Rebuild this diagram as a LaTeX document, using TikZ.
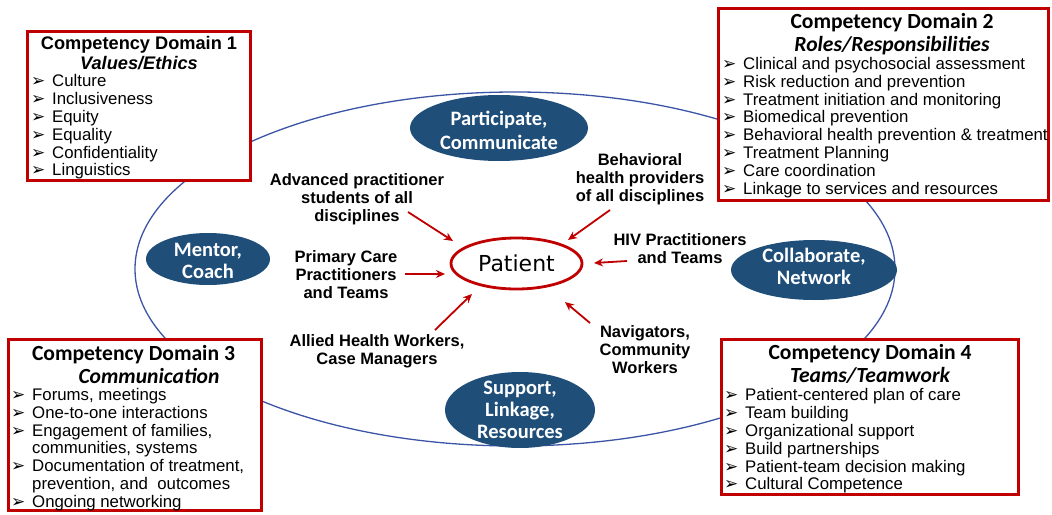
\documentclass[tikz,border=0pt]{standalone}
\usepackage{fontspec}
\setmainfont{Liberation Sans}
\newfontfamily\calfont{Carlito}
\newfontfamily\dvfont{DejaVu Sans}
\usetikzlibrary{shapes.geometric,arrows.meta}
\definecolor{boxred}{HTML}{C00000}
\definecolor{ellblue}{HTML}{1F4E79}
\definecolor{ringblue}{HTML}{3B54A5}
\newcommand\fsz[2]{\fontsize{#1}{#2}\selectfont}
\newcommand\itm{\makebox[21pt][l]{\dvfont\fsz{17}{18}➢}}
\newcommand\itmgap{\makebox[21pt][l]{}}
\begin{document}
\begin{tikzpicture}[x=1pt,y=-1pt,
  domainbox/.style={draw=boxred,line width=3pt,fill=white,rectangle,anchor=north west,inner sep=0pt},
  itemtxt/.style={anchor=base west,inner sep=0pt,font=\fsz{16.8}{18}},
  hdarial/.style={anchor=base,inner sep=0pt,font=\bfseries\fsz{18.2}{20}},
  hdarialit/.style={anchor=base,inner sep=0pt,font=\bfseries\itshape\fsz{18.2}{20}},
  hdcal/.style={anchor=base,inner sep=0pt,font=\calfont\bfseries\fsz{21.6}{24}},
  hdcalit/.style={anchor=base,inner sep=0pt,font=\calfont\bfseries\itshape\fsz{21.6}{24}},
  lbl/.style={align=center,inner sep=0pt,font=\bfseries\fsz{16.5}{18}},
  blueell/.style={ellipse,fill=ellblue,inner sep=0pt},
  elltxt/.style={align=center,inner sep=0pt,text=white,font=\calfont\bfseries\fsz{20.5}{22}},
  redarrow/.style={draw=boxred,line width=1.8pt,-{Stealth[length=9pt,width=8pt]}}
]
\useasboundingbox (0,0) rectangle (1052,514);

% outer ring
\node[ellipse,draw=ringblue,line width=1.3pt,inner sep=0pt,minimum width=760pt,minimum height=354pt] (ring) at (515,269) {};

% blue ellipses
\node[blueell,minimum width=178pt,minimum height=66pt] (pc) at (499,128) {};
\node[elltxt,font=\calfont\bfseries\fsz{20.5}{24}] (pctxt) at (499,130) {Participate,\\Communicate};
\node[blueell,minimum width=124pt,minimum height=52pt] (mc) at (208,259) {};
\node[elltxt] (mctxt) at (208,261) {Mentor,\\Coach};
\node[blueell,minimum width=166pt,minimum height=60pt] (cn) at (814,270) {};
\node[elltxt] (cntxt) at (814,266) {Collaborate,\\Network};
\node[blueell,minimum width=150pt,minimum height=76pt] (slr) at (520,410) {};
\node[elltxt] (slrtxt) at (520,410) {Support,\\Linkage,\\Resources};

% patient
\node[ellipse,draw=boxred,line width=2.8pt,inner sep=0pt,minimum width=131pt,minimum height=51pt,font=\dvfont\fsz{22}{24}] (patient) at (516.5,263.5) {Patient};

% labels
\node[lbl] (adv) at (357,199) {Advanced practitioner\\students of all\\disciplines};
\node[lbl] (beh) at (640,179) {Behavioral\\health providers\\of all disciplines};
\node[lbl] (pri) at (346,274.5) {Primary Care\\Practitioners\\and Teams};
\node[lbl] (hiv) at (680,249) {HIV Practitioners\\and Teams};
\node[lbl] (all) at (377,351) {Allied Health Workers,\\Case Managers};
\node[lbl] (nav) at (645,349.5) {Navigators,\\Community\\Workers};

% arrows
\coordinate (a1s) at (408,212); \coordinate (a1e) at (453,241);
\coordinate (a2s) at (610,210); \coordinate (a2e) at (568,240);
\coordinate (a3s) at (405,274); \coordinate (a3e) at (445,274);
\coordinate (a4s) at (627,261); \coordinate (a4e) at (594,263);
\coordinate (a5s) at (435,330); \coordinate (a5e) at (472,294);
\coordinate (a6s) at (590,323); \coordinate (a6e) at (565,302);
\draw[redarrow] (a1s) -- (a1e);
\draw[redarrow] (a2s) -- (a2e);
\draw[redarrow] (a3s) -- (a3e);
\draw[redarrow] (a4s) -- (a4e);
\draw[redarrow] (a5s) -- (a5e);
\draw[redarrow] (a6s) -- (a6e);

% Domain 1
\node[domainbox,minimum width=223pt,minimum height=149pt] (box1) at (26,30) {};
\node[hdarial] (h1) at (139,49.5) {Competency Domain 1};
\node[hdarialit] (s1) at (139,69) {Values/Ethics};
\foreach \t [count=\i from 0] in {Culture,Inclusiveness,Equity,Equality,Confidentiality,Linguistics}
  \node[itemtxt] (d1i\i) at (31,86.8+17.8*\i) {\itm\t};

% Domain 2
\node[domainbox,minimum width=330pt,minimum height=192pt] (box2) at (717,7) {};
\node[hdcal] (h2) at (892,28.7) {Competency Domain 2};
\node[hdcalit] (s2) at (892,51) {Roles/Responsibilities};
\foreach \t [count=\i from 0] in {Clinical and psychosocial assessment,Risk reduction and prevention,Treatment initiation and monitoring,Biomedical prevention,Behavioral health prevention \& treatment,Treatment Planning,Care coordination,Linkage to services and resources}
  \node[itemtxt] (d2i\i) at (722,69.3+17.86*\i) {\itm\t};

% Domain 3
\node[domainbox,minimum width=253pt,minimum height=171pt] (box3) at (7,338) {};
\node[hdcal] (h3) at (133.5,360) {Competency Domain 3};
\node[hdcalit] (s3) at (149,383) {Communication};
\foreach \t [count=\i from 0] in {\itm Forums{,} meetings,\itm One-to-one interactions,\itm Engagement of families{,},\itmgap communities{,} systems,\itm Documentation of treatment{,},\itmgap prevention{,} and\ \ outcomes,\itm Ongoing networking}
  \node[itemtxt] (d3i\i) at (11,400.8+17.7*\i) {\t};

% Domain 4
\node[domainbox,minimum width=297pt,minimum height=155pt] (box4) at (720,338) {};
\node[hdcal] (h4) at (870,359) {Competency Domain 4};
\node[hdcalit] (s4) at (870,382) {Teams/Teamwork};
\foreach \t [count=\i from 0] in {Patient-centered plan of care,Team building,Organizational support,Build partnerships,Patient-team decision making,Cultural Competence}
  \node[itemtxt] (d4i\i) at (724,400.8+17.8*\i) {\itm\t};
\end{tikzpicture}
\end{document}
